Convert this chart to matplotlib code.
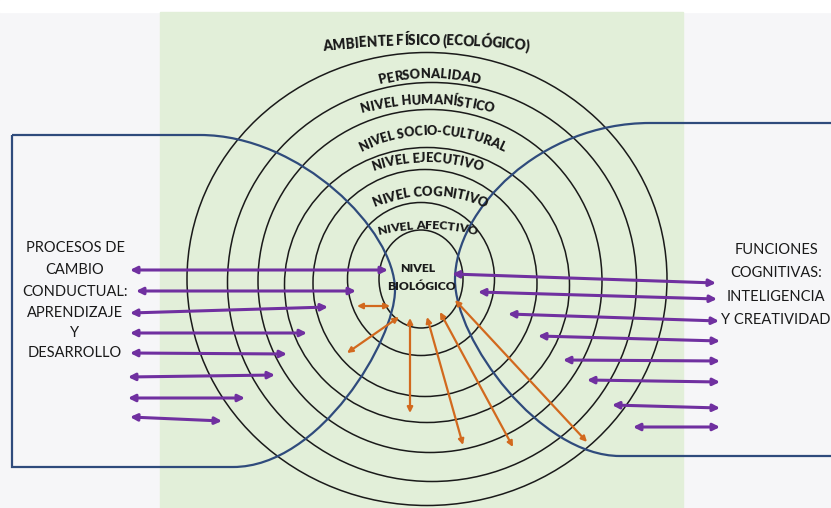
import numpy as np
import matplotlib
matplotlib.use("Agg")
import matplotlib.pyplot as plt
from matplotlib.patches import Ellipse, Rectangle, PathPatch
from matplotlib.path import Path
from matplotlib.font_manager import FontProperties, findfont, get_font

FONT = "Lato"

# concentric rings, outer -> inner (centre, full width, full height in px)
ring_cx = [427, 432, 430, 427, 425, 421, 421]
ring_cy = [279, 282, 281, 285, 283, 279, 279]
ring_w = [480, 409, 344, 285, 224, 147, 84]
ring_h = [453, 399, 343, 275, 227, 153, 98]

# ring labels: text, apex x, apex baseline y, arc radius, font size
ring_labels = ["AMBIENTE FÍSICO (ECOLÓGICO)", "PERSONALIDAD", "NIVEL HUMANÍSTICO",
               "NIVEL SOCIO-CULTURAL", "NIVEL EJECUTIVO", "NIVEL COGNITIVO",
               "NIVEL AFECTIVO"]
label_x = [426, 429, 427, 432, 427, 430, 427]
label_y = [45, 78, 104, 135, 162, 196, 229]
label_r = [900, 190, 240, 160, 165, 140, 210]
label_size = [9.8, 9.2, 9.2, 9.0, 9.2, 9.4, 8.9]

# purple arrows, left side
left_x0 = [130, 136, 130, 130, 130, 128, 128, 130]
left_y0 = [270, 291, 313, 333, 353, 377, 398, 417]
left_x1 = [388, 356, 328, 307, 287, 275, 245, 222]
left_y1 = [270, 291, 307, 333, 354, 375, 398, 421]

# purple arrows, right side
right_x0 = [452, 478, 508, 538, 563, 587, 612, 633]
right_y0 = [274, 292, 314, 336, 360, 380, 405, 427]
right_x1 = [716, 717, 719, 720, 720, 720, 720, 720]
right_y1 = [283, 299, 321, 341, 361, 382, 408, 427]

# orange arrows from the biological level
orange_x0 = [357, 399, 410, 427, 440, 455]
orange_y0 = [306, 317, 318, 317, 312, 300]
orange_x1 = [390, 347, 410, 463, 513, 587]
orange_y1 = [306, 353, 413, 445, 447, 442]

left_text = ["PROCESOS DE", "CAMBIO", "CONDUCTUAL:", "APRENDIZAJE", "Y", "DESARROLLO"]
left_text_y = [248, 270, 292, 313, 333, 353]
right_text = ["FUNCIONES", "COGNITIVAS:", "INTELIGENCIA", "Y CREATIVIDAD"]
right_text_y = [250, 273, 297, 320]

# outline shapes (bezier control points)
left_shape = [(12, 135), (200, 135), (300, 135), (395, 230), (395, 290),
              (395, 340), (320, 467), (233, 467), (12, 467), (12, 135)]
left_codes = [Path.MOVETO, Path.LINETO, Path.CURVE4, Path.CURVE4, Path.CURVE4,
              Path.CURVE4, Path.CURVE4, Path.CURVE4, Path.LINETO, Path.LINETO]
right_shape = [(840, 123), (650, 123), (540, 123), (455, 210), (455, 280),
               (455, 340), (540, 456), (620, 456), (840, 456)]
right_codes = [Path.MOVETO, Path.LINETO, Path.CURVE4, Path.CURVE4, Path.CURVE4,
               Path.CURVE4, Path.CURVE4, Path.CURVE4, Path.LINETO]

PURPLE = "#7030a0"
ORANGE = "#d2691e"
BLUE = "#2f4b7c"
INK = "#1a1a1a"

fig = plt.figure(figsize=(8.31, 5.08), dpi=100, facecolor="#f6f6f8")
ax = fig.add_axes([0, 0, 1, 1])
ax.set_xlim(0, 831)
ax.set_ylim(508, 0)
ax.axis("off")

ax.add_patch(Rectangle((0, 0), 831, 12, color="white", zorder=0))
ax.add_patch(Rectangle((160, 12), 523, 500, color="#e2efd9", zorder=0))

for cx, cy, w, h in zip(ring_cx, ring_cy, ring_w, ring_h):
    ax.add_patch(Ellipse((cx, cy), w, h, fill=False, ec=INK, lw=1.1, zorder=2))

ax.add_patch(PathPatch(Path(left_shape, left_codes), fill=False, ec=BLUE, lw=1.6, zorder=3))
ax.add_patch(PathPatch(Path(right_shape, right_codes), fill=False, ec=BLUE, lw=1.6, zorder=3))


def arrow(x0, y0, x1, y1, color, lw, ms):
    ax.annotate("", xy=(x1, y1), xytext=(x0, y0),
                arrowprops=dict(arrowstyle="<|-|>", color=color, lw=lw,
                                mutation_scale=ms, shrinkA=0, shrinkB=0),
                zorder=4)


for a, b, c, d in zip(left_x0, left_y0, left_x1, left_y1):
    arrow(a, b, c, d, PURPLE, 2.2, 10)
for a, b, c, d in zip(right_x0, right_y0, right_x1, right_y1):
    arrow(a, b, c, d, PURPLE, 2.2, 10)
for a, b, c, d in zip(orange_x0, orange_y0, orange_x1, orange_y1):
    arrow(a, b, c, d, ORANGE, 1.6, 8)


def ink_width(font, s):
    font.set_text(s, 0.0)
    return font.get_width_height()[0] / 64 * 100 / 72


def arc_text(text, x0, y0, R, size):
    # each glyph is placed on a circular arc, centred on its ink box
    prop = FontProperties(family=FONT, size=size, weight="heavy")
    font = get_font(findfont(prop))
    font.set_size(size, 72)
    total = ink_width(font, text)
    for i, ch in enumerate(text):
        if ch == " ":
            continue
        right = ink_width(font, text[:i + 1])
        s = right - ink_width(font, ch) / 2 - total / 2
        th = s / R
        x = x0 + R * np.sin(th)
        y = y0 + R - R * np.cos(th)
        ax.text(x, y, ch, rotation=-np.degrees(th), rotation_mode="anchor",
                ha="center", va="baseline", fontproperties=prop, color=INK, zorder=5)


for t, x, y, r, s in zip(ring_labels, label_x, label_y, label_r, label_size):
    arc_text(t, x, y, r, s)

ax.text(418, 268, "NIVEL", ha="center", va="center", fontsize=8.7,
        family=FONT, weight="heavy", color=INK, zorder=5)
ax.text(422, 286, "BIOLÓGICO", ha="center", va="center", fontsize=8.7,
        family=FONT, weight="heavy", color=INK, zorder=5)

for t, y in zip(left_text, left_text_y):
    ax.text(75, y, t, ha="center", va="center", fontsize=10.5, family=FONT, color=INK, zorder=5)
for t, y in zip(right_text, right_text_y):
    ax.text(776, y, t, ha="center", va="center", fontsize=10.5, family=FONT, color=INK, zorder=5)

fig.savefig("out.png", dpi=100, facecolor=fig.get_facecolor())
